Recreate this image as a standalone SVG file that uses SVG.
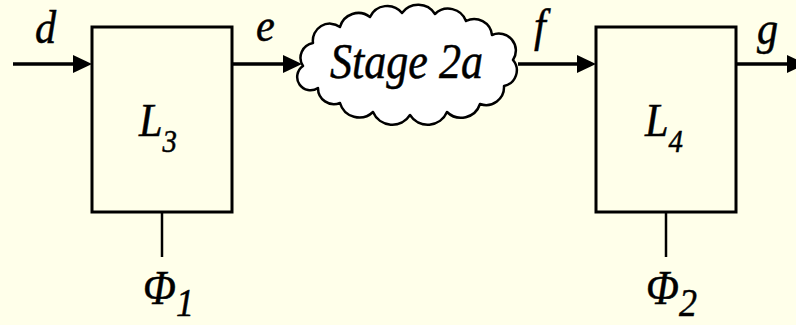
<svg xmlns="http://www.w3.org/2000/svg" width="796" height="325" viewBox="0 0 796 325">
  <style>
    .lbl { font-family: "Liberation Serif", "Times New Roman", serif; font-style: italic; fill: #000; stroke: #000; stroke-width: 0.5; }
    .box { fill: none; stroke: #000; stroke-width: 3; }
    .wire { stroke: #000; stroke-width: 3.5; fill: none; }
    .stem { stroke: #000; stroke-width: 2.5; fill: none; }
    .head { fill: #000; }
  </style>
  <rect x="0" y="0" width="796" height="325" fill="#FFFFEA"/>

  <g id="connectors">
    <line class="wire" x1="13" y1="64" x2="80" y2="64"/>
    <polygon class="head" points="73,55 92,64 73,73"/>
    <line class="wire" x1="232" y1="64" x2="290" y2="64"/>
    <polygon class="head" points="283,55 302,64 283,73"/>
    <line class="wire" x1="518" y1="64" x2="584" y2="64"/>
    <polygon class="head" points="577,55 596,64 577,73"/>
    <line class="wire" x1="736" y1="64" x2="794" y2="64"/>
    <polygon class="head" points="787,55 806,64 787,73"/>
    <line class="stem" x1="162" y1="212" x2="162" y2="257"/>
    <line class="stem" x1="666" y1="212" x2="666" y2="257"/>
    <text class="lbl" transform="translate(35,43) scale(0.9,1)" font-size="47">d</text>
    <text class="lbl" transform="translate(256,41) scale(0.9,1)" font-size="47">e</text>
    <text class="lbl" transform="translate(534,41) scale(0.9,1)" font-size="47">f</text>
    <text class="lbl" transform="translate(757,44) scale(0.9,1)" font-size="47">g</text>
  </g>

  <g id="L3">
    <rect class="box" x="92" y="27" width="140" height="185"/>
    <text class="lbl" transform="translate(139,136) scale(0.9,1)" font-size="47">L<tspan font-size="32" dy="16">3</tspan></text>
  </g>

  <g id="stage2a">
    <path d="M303,66 A15,15 0 0 1 313,43 A17,17 0 0 1 340,27 A19,19 0 0 1 370,17 A19,19 0 0 1 402,13 A20,20 0 0 1 435,14 A19,19 0 0 1 466,21 A18,18 0 0 1 492,35 A17,17 0 0 1 513,60 A16,16 0 0 1 504,86 A18,18 0 0 1 480,104 A20,20 0 0 1 447,112 A21,21 0 0 1 410,115 A21,21 0 0 1 373,112 A20,20 0 0 1 340,103 A16,16 0 0 1 318,88 A13,13 0 0 1 303,66 Z" fill="#FFFFFF" stroke="#000" stroke-width="2.5" stroke-linejoin="round"/>
    <text class="lbl" x="330" y="78" font-size="50" textLength="153" lengthAdjust="spacingAndGlyphs">Stage 2a</text>
  </g>

  <g id="L4">
    <rect class="box" x="596" y="27" width="140" height="185"/>
    <text class="lbl" transform="translate(645,136) scale(0.9,1)" font-size="47">L<tspan font-size="32" dy="16">4</tspan></text>
  </g>

  <g id="phi1">
    <text class="lbl" transform="translate(143,304) scale(0.9,1)" font-size="48">Φ<tspan font-size="40" dy="12">1</tspan></text>
  </g>

  <g id="phi2">
    <text class="lbl" transform="translate(646,304) scale(0.9,1)" font-size="48">Φ<tspan font-size="40" dy="12">2</tspan></text>
  </g>
</svg>
